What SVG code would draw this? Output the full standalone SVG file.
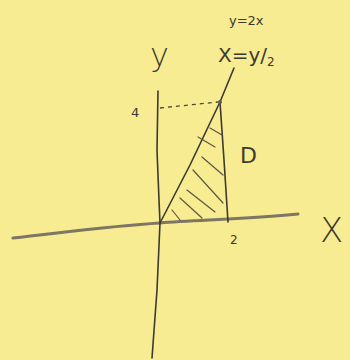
<svg xmlns="http://www.w3.org/2000/svg" width="350" height="360" viewBox="0 0 350 360">
<style>
.ink{fill:none;stroke:#3b3a30;stroke-width:1.6;stroke-linecap:round;stroke-linejoin:round}
.axisx{fill:none;stroke:#7d7663;stroke-width:3;stroke-linecap:round}
.hatch{fill:none;stroke:#5a5640;stroke-width:1.2;stroke-linecap:round}
.dash{fill:none;stroke:#4a4838;stroke-width:1.3;stroke-dasharray:4 4}
.t{font-family:"DejaVu Sans","Liberation Sans",sans-serif;fill:#3b3a30}
</style>
<rect width="350" height="360" fill="#f8ec92"/>
<g id="axes">
<path class="axisx" d="M13,238 C60,233 110,226 160,223 C200,220 250,219 298,214"/>
<path class="ink" d="M158,91 L157,150 L159,200 L160,223 L157,290 L152,358"/>
</g>
<g id="region">
<path class="ink" d="M160,223 L190,165 L220,102 L234,68"/>
<path class="ink" d="M220,102 L224,160 L228,222"/>
<path class="dash" d="M160,108 L218,102"/>
<circle cx="220" cy="102" r="2" fill="#5a5a50"/>
<path class="hatch" d="M210,128 L222,135 M198,137 L215,147 M202,157 L223,175 M193,170 L223,203 M187,190 L215,212 M180,198 L202,218 M172,210 L180,220"/>
</g>
<g id="labels">
<text class="t" x="150" y="66" font-size="32" font-weight="300">y</text>
<text class="t" x="131" y="117" font-size="13">4</text>
<text class="t" x="240" y="163" font-size="22">D</text>
<text class="t" x="230" y="244" font-size="12">2</text>
<text class="t" x="320" y="242" font-size="34" font-weight="300">X</text>
<text class="t" x="229" y="25" font-size="13">y=2x</text>
<text class="t" x="218" y="62" font-size="20">X=y/<tspan font-size="12" dy="4">2</tspan></text>
</g>
</svg>
